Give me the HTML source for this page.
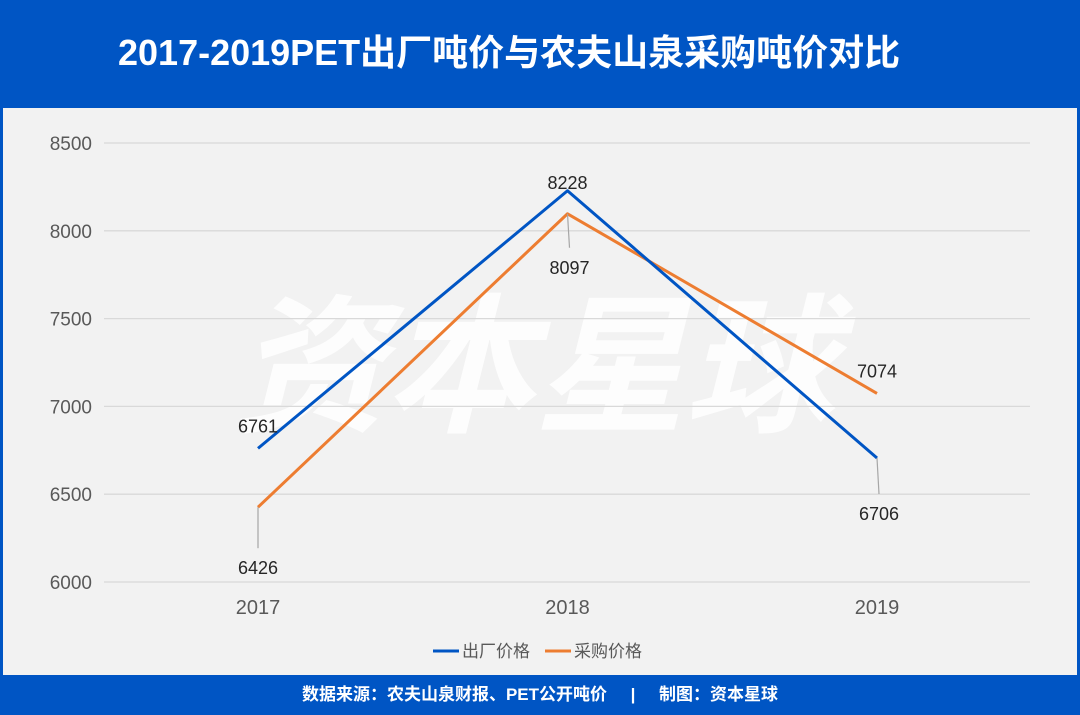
<!DOCTYPE html>
<html><head><meta charset="utf-8"><style>
body{margin:0;width:1080px;height:715px;overflow:hidden;background:#0055c4;font-family:"Liberation Sans","Noto Sans CJK SC",sans-serif}
#hdr{position:absolute;left:0;top:0;width:1080px;height:108px;background:#0055c4;color:#fff;font-size:36px;font-weight:bold;line-height:106px;text-indent:118px;white-space:nowrap}
#plot{position:absolute;left:3px;top:108px;width:1074px;height:567px;background:#f2f2f2}
#ftr{position:absolute;left:0;top:675px;width:1080px;height:40px;color:#fff;font-size:17px;font-weight:bold;text-align:center;line-height:40px}
svg{position:absolute;left:0;top:0}
</style></head><body>
<div id="hdr">2017-2019PET出厂吨价与农夫山泉采购吨价对比</div>
<div id="plot"></div>
<div id="ftr">数据来源：农夫山泉财报、PET公开吨价 &nbsp;&nbsp;&nbsp; | &nbsp;&nbsp;&nbsp; 制图：资本星球</div>
<svg id="c" width="1080" height="715"></svg>
<script>
const categories=["2017","2018","2019"];
const factoryPrice=[6761,8228,6706];
const purchasePrice=[6426,8097,7074];
const yTicks=[6000,6500,7000,7500,8000,8500];
const NS="http://www.w3.org/2000/svg";
const svg=document.getElementById('c');
function x(i){return 258+i*309.5;}
function y(v){return 582-(v-6000)*(439/2500);}
function el(t,a,txt){const e=document.createElementNS(NS,t);for(const k in a)e.setAttribute(k,a[k]);if(txt!==undefined)e.textContent=txt;svg.appendChild(e);return e;}
const wm=el('text',{x:535,y:420,'font-size':150,'font-weight':'bold','font-style':'italic',fill:'#ffffff','fill-opacity':0.85,'text-anchor':'middle','font-family':'"Noto Sans CJK SC",sans-serif'},'资本星球');


yTicks.forEach(v=>{
 const g=el('line',{x1:104,x2:1030,y1:y(v),y2:y(v),stroke:'#d9d9d9','stroke-width':1.3});
 
 
 const t=el('text',{x:92,y:y(v)+7,'font-size':19,fill:'#595959','text-anchor':'end'},v);
 
 
});
categories.forEach((c,i)=>{
 const t=el('text',{x:x(i),y:614,'font-size':20,fill:'#595959','text-anchor':'middle'},c);
 
 
});
function series(vals,color,name){
 const p=el('polyline',{points:vals.map((v,i)=>x(i)+','+y(v)).join(' '),fill:'none',stroke:color,'stroke-width':3,'stroke-linejoin':'round'});
 
 
}
series(purchasePrice,'#ed7d31','purchase-price-line');
series(factoryPrice,'#0055c4','factory-price-line');
const lab=[[factoryPrice,0,0,-16,false],[factoryPrice,1,0,-2,false],[factoryPrice,2,2,62,true],[purchasePrice,0,0,67,true],[purchasePrice,1,2,60,true],[purchasePrice,2,0,-16,false]];
lab.forEach(([s,i,dx,dy,ld])=>{
 const px=x(i),py=y(s[i]);
 if(ld){const l=el('line',{x1:px,y1:py,x2:px+dx,y2:py+dy-26,stroke:'#a6a6a6','stroke-width':1.2});
  
  }
 const t=el('text',{x:px+dx,y:py+dy,'font-size':18,fill:'#262626','text-anchor':'middle'},s[i]);
 
 
});
[[433,'#0055c4','出厂价格','legend-factory'],[545,'#ed7d31','采购价格','legend-purchase']].forEach(([lx,c,txt,n])=>{
 const l=el('line',{x1:lx,x2:lx+26,y1:651,y2:651,stroke:c,'stroke-width':3});
 
 
 const t=el('text',{x:lx+29,y:657,'font-size':17,fill:'#595959'},txt);
 
 
});
</script>
</body></html>
